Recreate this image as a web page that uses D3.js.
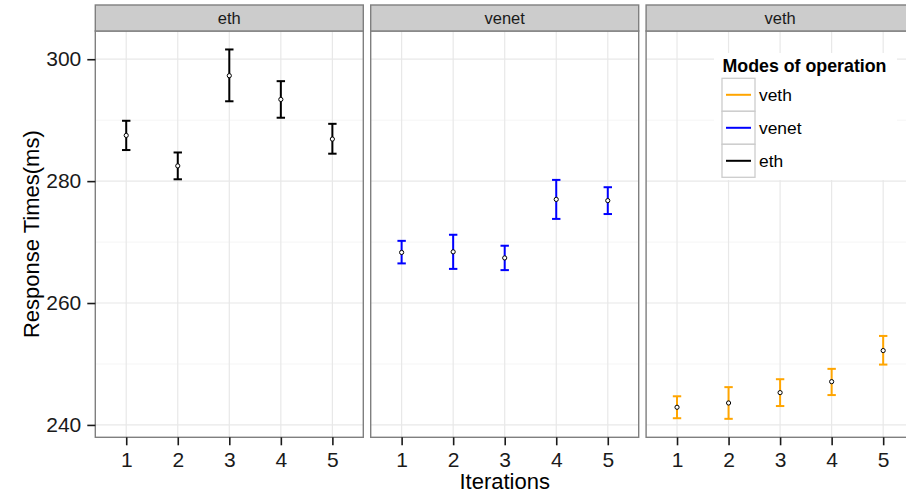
<!DOCTYPE html>
<html>
<head>
<meta charset="utf-8">
<script src="https://cdn.jsdelivr.net/npm/d3@7"></script>
<style>
  html, body { margin: 0; padding: 0; background: #ffffff; }
  svg { display: block; font-family: "Liberation Sans", Arial, Helvetica, sans-serif; }
</style>
</head>
<body>
<svg id="chart" width="906" height="493"></svg>
<script>
// Facets, in drawing order
const modes = ["eth", "venet", "veth"];
const iterations = [1, 2, 3, 4, 5];

// Mean response time (ms) per iteration
const ethMean   = [287.5, 282.5, 297.3, 293.4, 286.9];
const venetMean = [268.3, 268.4, 267.4, 277.0, 276.8];
const vethMean  = [242.9, 243.6, 245.3, 247.1, 252.2];

// Lower / upper error bar bounds (ms)
const ethLow    = [285.1, 280.3, 293.1, 290.4, 284.5];
const ethHigh   = [289.9, 284.7, 301.6, 296.4, 289.4];
const venetLow  = [266.5, 265.6, 265.4, 273.8, 274.6];
const venetHigh = [270.2, 271.2, 269.4, 280.2, 279.0];
const vethLow   = [241.1, 241.0, 243.1, 244.9, 249.9];
const vethHigh  = [244.7, 246.2, 247.5, 249.2, 254.6];

const yTicks = [240, 260, 280, 300];
const yMinor = [250, 270, 290];

// Legend entries (top to bottom) and mode colours
const legendModes = ["veth", "venet", "eth"];
const modeColour = { veth: "#FFA500", venet: "#0000FF", eth: "#000000" };

const series = {
  eth:   { mean: ethMean,   low: ethLow,   high: ethHigh },
  venet: { mean: venetMean, low: venetLow, high: venetHigh },
  veth:  { mean: vethMean,  low: vethLow,  high: vethHigh }
};

const svg = d3.select("#chart");

// Panel geometry
const stripTop = 5, panelTop = 31, panelBottom = 437.3;
const panelW = 268, firstLeft = 95.3, panelGap = 7.4;
const panelLeft = i => firstLeft + i * (panelW + panelGap);

// Shared y scale with 5% expansion around the data
const allVals = modes.flatMap(m => series[m].low.concat(series[m].high));
const yMin = d3.min(allVals), yMax = d3.max(allVals), span = yMax - yMin;
const y = d3.scaleLinear()
  .domain([yMin - 0.05 * span, yMax + 0.05 * span])
  .range([panelBottom, panelTop]);

modes.forEach((mode, i) => {
  const left = panelLeft(i);
  const x = d3.scalePoint().domain(iterations).range([left, left + panelW]).padding(0.6);
  const g = svg.append("g");

  // panel background
  g.append("rect").attr("x", left).attr("y", panelTop)
    .attr("width", panelW).attr("height", panelBottom - panelTop).attr("fill", "#ffffff");

  // minor grid
  g.selectAll(".ymin").data(yMinor).join("line")
    .attr("x1", left).attr("x2", left + panelW)
    .attr("y1", d => y(d)).attr("y2", d => y(d))
    .attr("stroke", "#f5f5f5").attr("stroke-width", 1);
  // major grid
  g.selectAll(".ymaj").data(yTicks).join("line")
    .attr("x1", left).attr("x2", left + panelW)
    .attr("y1", d => y(d)).attr("y2", d => y(d))
    .attr("stroke", "#e8e8e8").attr("stroke-width", 1.2);
  g.selectAll(".xmaj").data(iterations).join("line")
    .attr("x1", d => x(d)).attr("x2", d => x(d))
    .attr("y1", panelTop).attr("y2", panelBottom)
    .attr("stroke", "#e8e8e8").attr("stroke-width", 1.2);

  // error bars
  const s = series[mode];
  const col = modeColour[mode];
  const rows = iterations.map((it, k) => ({ it, mean: s.mean[k], low: s.low[k], high: s.high[k] }));
  const eb = g.append("g").attr("stroke", col).attr("stroke-width", 2).attr("fill", "none");
  rows.forEach(r => {
    const cx = x(r.it);
    eb.append("line").attr("x1", cx).attr("x2", cx).attr("y1", y(r.low)).attr("y2", y(r.high));
    eb.append("line").attr("x1", cx - 4.2).attr("x2", cx + 4.2).attr("y1", y(r.low)).attr("y2", y(r.low));
    eb.append("line").attr("x1", cx - 4.2).attr("x2", cx + 4.2).attr("y1", y(r.high)).attr("y2", y(r.high));
  });
  g.selectAll(".pt").data(rows).join("circle")
    .attr("cx", d => x(d.it)).attr("cy", d => y(d.mean)).attr("r", 2.1)
    .attr("fill", "#ffffff").attr("stroke", "#000000").attr("stroke-width", 1);

  // panel border
  g.append("rect").attr("x", left).attr("y", panelTop)
    .attr("width", panelW).attr("height", panelBottom - panelTop)
    .attr("fill", "none").attr("stroke", "#7f7f7f").attr("stroke-width", 1.4);

  // strip
  g.append("rect").attr("x", left).attr("y", stripTop)
    .attr("width", panelW).attr("height", panelTop - stripTop)
    .attr("fill", "#cccccc").attr("stroke", "#7f7f7f").attr("stroke-width", 1.4);
  g.append("text").attr("x", left + panelW / 2).attr("y", (stripTop + panelTop) / 2 + 6)
    .attr("text-anchor", "middle").attr("font-size", 16.5).attr("fill", "#1a1a1a").text(mode);

  // x axis
  const xa = g.append("g").attr("transform", `translate(0,${panelBottom})`)
    .call(d3.axisBottom(x).tickSize(8).tickPadding(7));
  xa.select(".domain").remove();
  xa.selectAll(".tick line").attr("stroke", "#1a1a1a").attr("stroke-width", 1.6);
  xa.selectAll(".tick text").attr("font-size", 21).attr("fill", "#1a1a1a");
});

// y axis on the first panel
const ya = svg.append("g").attr("transform", `translate(${firstLeft},0)`)
  .call(d3.axisLeft(y).tickValues(yTicks).tickSize(8).tickPadding(6));
ya.select(".domain").remove();
ya.selectAll(".tick line").attr("stroke", "#1a1a1a").attr("stroke-width", 1.6);
ya.selectAll(".tick text").attr("font-size", 21).attr("fill", "#1a1a1a");

// axis titles
const fullRight = panelLeft(2) + panelW;
svg.append("text").attr("x", (firstLeft + fullRight) / 2).attr("y", 489)
  .attr("text-anchor", "middle").attr("font-size", 22).attr("fill", "#000").text("Iterations");
svg.append("text")
  .attr("transform", `translate(39,${(panelTop + panelBottom) / 2}) rotate(-90)`)
  .attr("text-anchor", "middle").attr("font-size", 22).attr("fill", "#000").text("Response Times(ms)");

// legend
const lg = svg.append("g");
lg.append("rect").attr("x", 714).attr("y", 53).attr("width", 183).attr("height", 127).attr("fill", "#ffffff");
lg.append("text").attr("x", 722.5).attr("y", 72).attr("font-size", 17.8).attr("font-weight", "bold")
  .attr("fill", "#000").text("Modes of operation");
const keyH = 33;
legendModes.forEach((m, k) => {
  const ky = 78.3 + k * keyH;
  lg.append("rect").attr("x", 722).attr("y", ky).attr("width", 33).attr("height", keyH)
    .attr("fill", "#ffffff").attr("stroke", "#cccccc").attr("stroke-width", 1.3);
  lg.append("line").attr("x1", 726).attr("x2", 751).attr("y1", ky + keyH / 2).attr("y2", ky + keyH / 2)
    .attr("stroke", modeColour[m]).attr("stroke-width", 2);
  lg.append("text").attr("x", 759).attr("y", ky + keyH / 2 + 6).attr("font-size", 17.4)
    .attr("fill", "#000").text(m);
});
</script>
</body>
</html>
